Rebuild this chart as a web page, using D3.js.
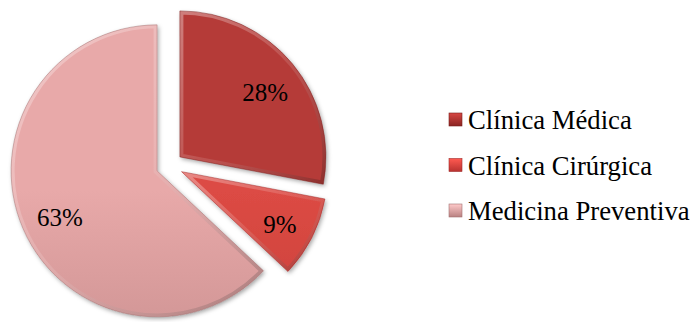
<!DOCTYPE html>
<html>
<head>
<meta charset="utf-8">
<script src="https://cdn.jsdelivr.net/npm/d3@7"></script>
<style>
  html, body { margin: 0; padding: 0; background: #ffffff; }
  svg { display: block; }
</style>
</head>
<body>
<svg id="chart" width="694" height="322"></svg>
<script>
// ---- data ----
const categories = ["Clínica Médica", "Clínica Cirúrgica", "Medicina Preventiva"];
const values = [28, 9, 63];
const labels = ["28%", "9%", "63%"];
const topColors = ["#b53b38", "#dc4b44", "#e8a9a9"];
const bottomColors = ["#8a2422", "#b83230", "#b98181"];

// ---- layout ----
const FONT = '"Liberation Serif"';
const width = 694, height = 322;
const cx = 169.5, cy = 165.5, radius = 146, explode = 13.5;
const svg = d3.select("#chart");
const defs = svg.append("defs");

const shadow = defs.append("filter").attr("id", "shadow")
  .attr("x", "-20%").attr("y", "-20%").attr("width", "140%").attr("height", "140%");
shadow.append("feDropShadow").attr("dx", 1.5).attr("dy", 2).attr("stdDeviation", 2)
  .attr("flood-color", "#000").attr("flood-opacity", 0.35);

// bevel gradient: light on upper-left edges, dark on lower-right edges
const bev = defs.append("linearGradient").attr("id", "bevel")
  .attr("x1", 0).attr("y1", 0).attr("x2", 1).attr("y2", 1);
bev.append("stop").attr("offset", "0%").attr("stop-color", "#ffffff").attr("stop-opacity", 0.35);
bev.append("stop").attr("offset", "50%").attr("stop-color", "#ffffff").attr("stop-opacity", 0.12);
bev.append("stop").attr("offset", "100%").attr("stop-color", "#000000").attr("stop-opacity", 0.22);

categories.forEach((c, i) => {
  const g = defs.append("linearGradient").attr("id", "grad" + i)
    .attr("gradientUnits", "userSpaceOnUse")
    .attr("x1", 0).attr("y1", cy - radius).attr("x2", 0).attr("y2", cy + radius);
  g.append("stop").attr("offset", "0%").attr("stop-color", topColors[i]);
  g.append("stop").attr("offset", "100%").attr("stop-color", bottomColors[i]);

  const lg = defs.append("linearGradient").attr("id", "lgrad" + i)
    .attr("x1", 0).attr("y1", 0).attr("x2", 0).attr("y2", 1);
  lg.append("stop").attr("offset", "0%").attr("stop-color", d3.color(topColors[i]).brighter(0.5));
  lg.append("stop").attr("offset", "100%").attr("stop-color", bottomColors[i]);
});

const pie = d3.pie().sort(null).value(d => d)(values);
const arc = d3.arc().innerRadius(0).outerRadius(radius);
const labelArc = d3.arc().innerRadius(radius * 0.74).outerRadius(radius * 0.74);

pie.forEach((d, i) => {
  defs.append("clipPath").attr("id", "clip" + i).append("path").attr("d", arc(d));
});

const gPie = svg.append("g").attr("transform", `translate(${cx},${cy})`);
const slices = gPie.selectAll("g.slice").data(pie).join("g")
  .attr("class", "slice")
  .attr("transform", d => {
    const a = (d.startAngle + d.endAngle) / 2;
    return `translate(${explode * Math.sin(a)},${-explode * Math.cos(a)})`;
  });

slices.append("path")
  .attr("d", arc)
  .attr("fill", (d, i) => `url(#grad${i})`)
  .attr("filter", "url(#shadow)");

// bevel edge
slices.append("path")
  .attr("d", arc)
  .attr("fill", "none")
  .attr("clip-path", (d, i) => `url(#clip${i})`)
  .attr("stroke", "url(#bevel)")
  .attr("stroke-width", 7);

slices.append("path")
  .attr("d", arc)
  .attr("fill", "none")
  .attr("stroke", (d, i) => d3.color(bottomColors[i]).darker(0.4))
  .attr("stroke-opacity", 0.6)
  .attr("stroke-width", 0.8);

slices.append("text")
  .attr("transform", d => {
    const [x, y] = labelArc.centroid(d);
    return `translate(${x},${y})`;
  })
  .attr("text-anchor", "middle")
  .attr("dx", 2)
  .attr("dy", "0.5em")
  .attr("font-family", FONT)
  .attr("font-size", 25)
  .attr("fill", "#000")
  .text((d, i) => labels[i]);

// ---- legend ----
const legend = svg.append("g").attr("transform", "translate(449,113)");
const rows = legend.selectAll("g").data(categories).join("g")
  .attr("transform", (d, i) => `translate(0,${i * 45.5})`);
rows.append("rect")
  .attr("width", 13).attr("height", 13)
  .attr("fill", (d, i) => `url(#lgrad${i})`)
  .attr("stroke", (d, i) => d3.color(bottomColors[i]).darker(0.4))
  .attr("stroke-width", 0.6);
rows.append("text")
  .attr("x", 19).attr("y", 16)
  .attr("font-family", FONT)
  .attr("font-size", 26.7)
  .attr("fill", "#000")
  .text(d => d);
</script>
</body>
</html>
